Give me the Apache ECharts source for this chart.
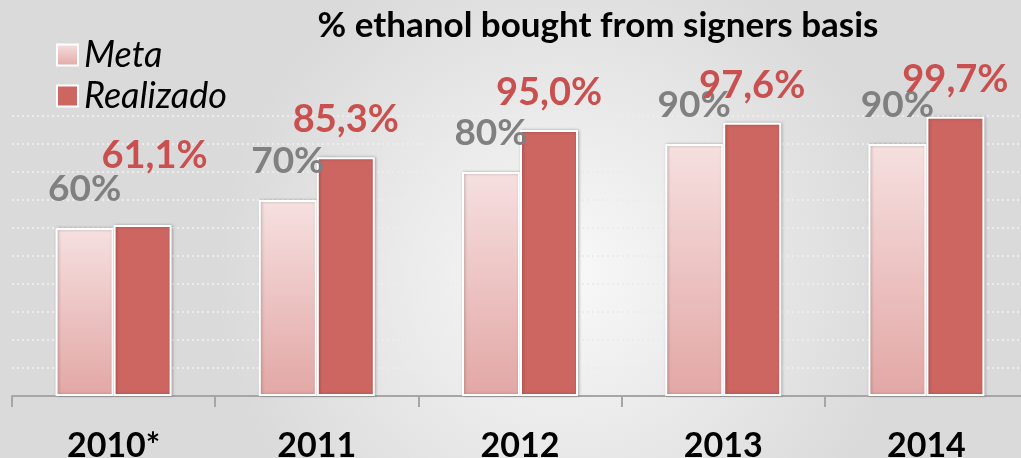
<!DOCTYPE html>
<html>
<head>
<meta charset="utf-8">
<script src="https://cdn.jsdelivr.net/npm/echarts@6/dist/echarts.min.js"></script>
<style>
  html, body { margin: 0; padding: 0; }
  #chart { width: 1021px; height: 458px; }
</style>
</head>
<body>
<div id="chart"></div>
<script>
// dados
const years = ['2010*', '2011', '2012', '2013', '2014'];
const meta = [60, 70, 80, 90, 90];
const realizado = [61.1, 85.3, 95.0, 97.6, 99.7];
const metaLabels = ['60%', '70%', '80%', '90%', '90%'];
const realLabels = ['61,1%', '85,3%', '95,0%', '97,6%', '99,7%'];

const fontFam = 'Lato, "Open Sans", sans-serif';

const chart = echarts.init(document.getElementById('chart'));

const metaData = meta.map((v, i) => ({
  value: v,
  label: {formatter: metaLabels[i]}
}));
const realData = realizado.map((v, i) => {
  const item = {value: v, label: {formatter: realLabels[i]}};
  if (i === 0) {
    item.label.offset = [12, -32]; // primeiro rótulo fica mais alto
  }
  return item;
});

chart.setOption({
  backgroundColor: {
    type: 'radial', x: 0.55, y: 0.6, r: 0.75,
    colorStops: [
      {offset: 0, color: '#f9f9f9'},
      {offset: 1, color: '#dadada'}
    ]
  },
  title: {
    text: '% ethanol bought from signers basis',
    left: 593,
    top: 3,
    textAlign: 'center',
    textStyle: {fontFamily: fontFam, fontWeight: 'bold', fontSize: 35, color: '#000'}
  },
  legend: {
    orient: 'vertical',
    left: 51,
    top: 32,
    itemWidth: 21,
    itemHeight: 21,
    itemGap: 5,
    icon: 'rect',
    textStyle: {fontFamily: fontFam, fontStyle: 'italic', fontSize: 36, color: '#000', padding: [0, 0, 0, 1], lineHeight: 35},
    itemStyle: {borderColor: '#fff', borderWidth: 2},
    data: ['Meta', 'Realizado']
  },
  grid: {left: 12, width: 1016, top: 116, bottom: 62, outerBoundsMode: 'none', containLabel: false},
  xAxis: {
    type: 'category',
    data: years,
    axisLine: {lineStyle: {color: '#a6a6a6', width: 2}},
    axisTick: {show: true, length: 11, lineStyle: {color: '#a6a6a6', width: 2}},
    axisLabel: {
      fontFamily: fontFam, fontWeight: 'bold', fontSize: 34, color: '#000', margin: 33
    }
  },
  yAxis: {
    type: 'value',
    min: 0,
    max: 100,
    interval: 10,
    axisLine: {show: false},
    axisTick: {show: false},
    axisLabel: {show: false},
    splitLine: {lineStyle: {color: '#ececec', type: [2, 3], width: 2}}
  },
  series: [
    {
      name: 'Meta',
      type: 'bar',
      data: metaData,
      barWidth: 58,
      barGap: '0%',
      itemStyle: {
        color: {
          type: 'linear', x: 0, y: 0, x2: 0, y2: 1,
          colorStops: [
            {offset: 0, color: '#f6e0e0'},
            {offset: 1, color: '#e2a7a5'}
          ]
        },
        borderColor: '#fff',
        borderWidth: 2,
        shadowColor: 'rgba(0,0,0,0.25)',
        shadowBlur: 3,
        shadowOffsetX: 1
      },
      label: {
        show: true,
        position: 'top',
        distance: 20,
        fontFamily: fontFam,
        fontWeight: 'bold',
        fontSize: 37,
        color: '#808080'
      }
    },
    {
      name: 'Realizado',
      type: 'bar',
      data: realData,
      barWidth: 58,
      itemStyle: {
        color: '#cd6560',
        borderColor: '#fff',
        borderWidth: 2,
        shadowColor: 'rgba(0,0,0,0.25)',
        shadowBlur: 3,
        shadowOffsetX: 1
      },
      label: {
        show: true,
        position: 'top',
        distance: 18,
        fontFamily: fontFam,
        fontWeight: 'bold',
        fontSize: 38,
        color: '#c9504f'
      }
    }
  ]
});
</script>
</body>
</html>
